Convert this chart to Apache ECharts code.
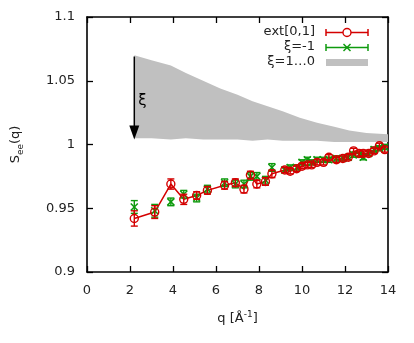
<!DOCTYPE html>
<html><head><meta charset="utf-8">
<script src="https://cdn.jsdelivr.net/npm/echarts@6/dist/echarts.min.js"></script>
<style>html,body{margin:0;padding:0;background:#fff}#c{width:414px;height:343px}</style>
</head><body><div id="c"></div>
<script>
// ---- data ----
const qValues = [2.2, 3.15, 3.9, 4.5, 5.1, 5.6, 6.4, 6.9, 7.3, 7.6, 7.9, 8.3, 8.6, 9.2, 9.45, 9.75, 10.0, 10.25, 10.45, 10.7, 11.0, 11.25, 11.6, 11.9, 12.15, 12.4, 12.65, 12.85, 13.1, 13.35, 13.6, 13.85];
const extValues = [0.942, 0.947, 0.969, 0.957, 0.960, 0.964, 0.968, 0.970, 0.965, 0.976, 0.969, 0.971, 0.977, 0.980, 0.979, 0.981, 0.983, 0.984, 0.984, 0.986, 0.986, 0.990, 0.988, 0.989, 0.990, 0.995, 0.993, 0.993, 0.993, 0.995, 0.999, 0.996];
const extErrors = [0.006, 0.005, 0.004, 0.004, 0.003, 0.003, 0.003, 0.003, 0.003, 0.003, 0.003, 0.003, 0.003, 0.002, 0.002, 0.002, 0.002, 0.002, 0.002, 0.002, 0.002, 0.002, 0.002, 0.002, 0.002, 0.002, 0.002, 0.002, 0.002, 0.002, 0.002, 0.002];
const xiMinus1Values = [0.951, 0.948, 0.955, 0.961, 0.958, 0.965, 0.970, 0.969, 0.969, 0.975, 0.975, 0.972, 0.982, 0.980, 0.982, 0.982, 0.986, 0.988, 0.986, 0.988, 0.988, 0.988, 0.989, 0.989, 0.990, 0.992, 0.992, 0.990, 0.993, 0.996, 0.997, 0.998];
const xiMinus1Errors = [0.005, 0.005, 0.003, 0.003, 0.003, 0.003, 0.003, 0.003, 0.003, 0.003, 0.003, 0.003, 0.003, 0.002, 0.002, 0.002, 0.002, 0.002, 0.002, 0.002, 0.002, 0.002, 0.002, 0.002, 0.002, 0.002, 0.002, 0.002, 0.002, 0.002, 0.002, 0.002];
const bandQ = [2.2, 3.0, 3.9, 4.6, 5.4, 6.2, 7.0, 7.7, 8.4, 9.1, 9.9, 10.7, 11.5, 12.2, 13.0, 14.0];
const bandHigh = [1.070, 1.066, 1.062, 1.056, 1.050, 1.044, 1.039, 1.034, 1.030, 1.026, 1.021, 1.017, 1.014, 1.011, 1.009, 1.008];
const bandLow = [1.005, 1.005, 1.004, 1.005, 1.004, 1.004, 1.004, 1.003, 1.004, 1.003, 1.003, 1.003, 1.002, 1.002, 1.002, 1.002];
const arrowQ = 2.2, arrowFrom = 1.069, arrowTo = 1.004;
const xTicks = [0, 2, 4, 6, 8, 10, 12, 14];
const yTicks = [0.9, 0.95, 1, 1.05, 1.1];
const legendNames = ['ext[0,1]', 'ξ=-1', 'ξ=1…0'];

const RED = '#d40000', GREEN = '#0e9a0e', GRAY = '#c0c0c0';
const FONT = 'DejaVu Sans';

function errBarSeries(name, vals, errs, color, marker) {
  return {
    name, type: 'custom', z: 5, clip: true,
    encode: { x: 0, y: 1 },
    data: qValues.map((q, i) => [q, vals[i], errs[i]]),
    renderItem: function (params, api) {
      const x = api.value(0), y = api.value(1), e = api.value(2);
      const p = api.coord([x, y]), t = api.coord([x, y + e]), b = api.coord([x, y - e]);
      const st = { stroke: color, lineWidth: 1.4, fill: null };
      const ch = [
        { type: 'line', shape: { x1: p[0], y1: t[1], x2: p[0], y2: b[1] }, style: st },
        { type: 'line', shape: { x1: p[0] - 3.5, y1: t[1], x2: p[0] + 3.5, y2: t[1] }, style: st },
        { type: 'line', shape: { x1: p[0] - 3.5, y1: b[1], x2: p[0] + 3.5, y2: b[1] }, style: st }
      ];
      if (marker === 'circle') {
        ch.push({ type: 'circle', shape: { cx: p[0], cy: p[1], r: 4 }, style: { stroke: color, lineWidth: 1.4, fill: 'rgba(255,255,255,0)' } });
      } else {
        const s = 3.5;
        ch.push({ type: 'line', shape: { x1: p[0] - s, y1: p[1] - s, x2: p[0] + s, y2: p[1] + s }, style: { stroke: color, lineWidth: 1.5 } });
        ch.push({ type: 'line', shape: { x1: p[0] - s, y1: p[1] + s, x2: p[0] + s, y2: p[1] - s }, style: { stroke: color, lineWidth: 1.5 } });
      }
      return { type: 'group', children: ch };
    }
  };
}

const axisCommon = {
  type: 'value',
  axisLine: { show: true, onZero: false, lineStyle: { color: '#000', width: 1.6 } },
  axisTick: { show: true, inside: true, length: 6, lineStyle: { color: '#000', width: 1.3 } },
  splitLine: { show: false }
};
const labelStyle = { color: '#222', fontFamily: FONT, fontSize: 13 };

const chart = echarts.init(document.getElementById('c'), null, { renderer: 'canvas' });
chart.setOption({
  animation: false,
  backgroundColor: '#fff',
  grid: { left: 87, right: 26, top: 17, bottom: 71 },
  xAxis: [
    Object.assign({}, axisCommon, {
      min: xTicks[0], max: xTicks[xTicks.length - 1], interval: 2, position: 'bottom',
      axisLabel: Object.assign({ margin: 12 }, labelStyle),
      name: '{t|q [Å}{s|-1}{t|]}', nameLocation: 'middle', nameGap: 38,
      nameTextStyle: { rich: {
        t: { fontFamily: FONT, fontSize: 13, color: '#222', lineHeight: 18 },
        s: { fontFamily: FONT, fontSize: 9, color: '#222', verticalAlign: 'top', lineHeight: 18, padding: [0, 0, 6, 0] }
      } }
    }),
    Object.assign({}, axisCommon, {
      min: xTicks[0], max: xTicks[xTicks.length - 1], interval: 2, position: 'top',
      axisLabel: { show: false }
    })
  ],
  yAxis: [
    Object.assign({}, axisCommon, {
      min: yTicks[0], max: yTicks[yTicks.length - 1], interval: 0.05, position: 'left',
      axisLabel: Object.assign({ margin: 12, formatter: v => String(+v.toFixed(2)) }, labelStyle),
      name: '{t|S}{s|ee}{t|(q)}', nameLocation: 'middle', nameGap: 62, nameRotate: 90,
      nameTextStyle: { rich: {
        t: { fontFamily: FONT, fontSize: 13, color: '#222', lineHeight: 18 },
        s: { fontFamily: FONT, fontSize: 9, color: '#222', verticalAlign: 'bottom', lineHeight: 18, padding: [6, 0, 0, 0] }
      } }
    }),
    Object.assign({}, axisCommon, {
      min: yTicks[0], max: yTicks[yTicks.length - 1], interval: 0.05, position: 'right',
      axisLabel: { show: false }
    })
  ],
  series: [
    {
      name: legendNames[2], type: 'custom', z: 1, silent: true, clip: true,
      data: [[bandQ[0], bandLow[0]]],
      renderItem: function (params, api) {
        const upper = bandQ.map((q, i) => api.coord([q, bandHigh[i]]));
        const lower = bandQ.map((q, i) => api.coord([q, bandLow[i]])).reverse();
        return { type: 'polygon', shape: { points: upper.concat(lower) }, style: { fill: GRAY } };
      }
    },
    {
      name: 'extLine', type: 'line', symbol: 'none', z: 4,
      lineStyle: { color: RED, width: 1.5 },
      data: qValues.map((q, i) => [q, extValues[i]])
    },
    errBarSeries(legendNames[1], xiMinus1Values, xiMinus1Errors, GREEN, 'x'),
    errBarSeries(legendNames[0], extValues, extErrors, RED, 'circle'),
    {
      name: 'arrow', type: 'custom', z: 6, clip: false,
      data: [[arrowQ, arrowFrom, arrowTo]],
      renderItem: function (params, api) {
        const a = api.coord([api.value(0), api.value(1)]);
        const b = api.coord([api.value(0), api.value(2)]);
        const headLen = 14, headW = 5;
        return { type: 'group', children: [
          { type: 'line', shape: { x1: a[0], y1: a[1], x2: b[0], y2: b[1] - headLen + 1 }, style: { stroke: '#000', lineWidth: 1.5 } },
          { type: 'polygon', shape: { points: [[b[0], b[1]], [b[0] - headW, b[1] - headLen], [b[0] + headW, b[1] - headLen]] }, style: { fill: '#000' } },
          { type: 'text', x: a[0] + 4, y: (a[1] + b[1]) / 2 + 3, style: { text: 'ξ', font: '15px "' + FONT + '"', fill: '#000', textAlign: 'left', textVerticalAlign: 'middle' } }
        ] };
      }
    }
  ],
  graphic: [
    { type: 'text', right: 414 - 315, top: 25, style: { text: legendNames[0], font: '13px "' + FONT + '"', fill: '#222', textAlign: 'right' } },
    { type: 'text', right: 414 - 315, top: 40, style: { text: legendNames[1], font: '13px "' + FONT + '"', fill: '#222', textAlign: 'right' } },
    { type: 'text', right: 414 - 315, top: 55, style: { text: legendNames[2], font: '13px "' + FONT + '"', fill: '#222', textAlign: 'right' } },
    { type: 'group', children: [
      { type: 'line', shape: { x1: 326, y1: 32.5, x2: 368, y2: 32.5 }, style: { stroke: RED, lineWidth: 1.5 } },
      { type: 'line', shape: { x1: 326, y1: 29, x2: 326, y2: 36 }, style: { stroke: RED, lineWidth: 1.5 } },
      { type: 'line', shape: { x1: 368, y1: 29, x2: 368, y2: 36 }, style: { stroke: RED, lineWidth: 1.5 } },
      { type: 'circle', shape: { cx: 347, cy: 32.5, r: 4 }, style: { stroke: RED, lineWidth: 1.4, fill: '#fff' } },
      { type: 'line', shape: { x1: 326, y1: 47.5, x2: 368, y2: 47.5 }, style: { stroke: GREEN, lineWidth: 1.5 } },
      { type: 'line', shape: { x1: 326, y1: 44, x2: 326, y2: 51 }, style: { stroke: GREEN, lineWidth: 1.5 } },
      { type: 'line', shape: { x1: 368, y1: 44, x2: 368, y2: 51 }, style: { stroke: GREEN, lineWidth: 1.5 } },
      { type: 'line', shape: { x1: 343.5, y1: 44, x2: 350.5, y2: 51 }, style: { stroke: GREEN, lineWidth: 1.5 } },
      { type: 'line', shape: { x1: 343.5, y1: 51, x2: 350.5, y2: 44 }, style: { stroke: GREEN, lineWidth: 1.5 } },
      { type: 'rect', shape: { x: 326, y: 59, width: 42, height: 7 }, style: { fill: GRAY } }
    ] }
  ]
});
</script>
</body></html>
